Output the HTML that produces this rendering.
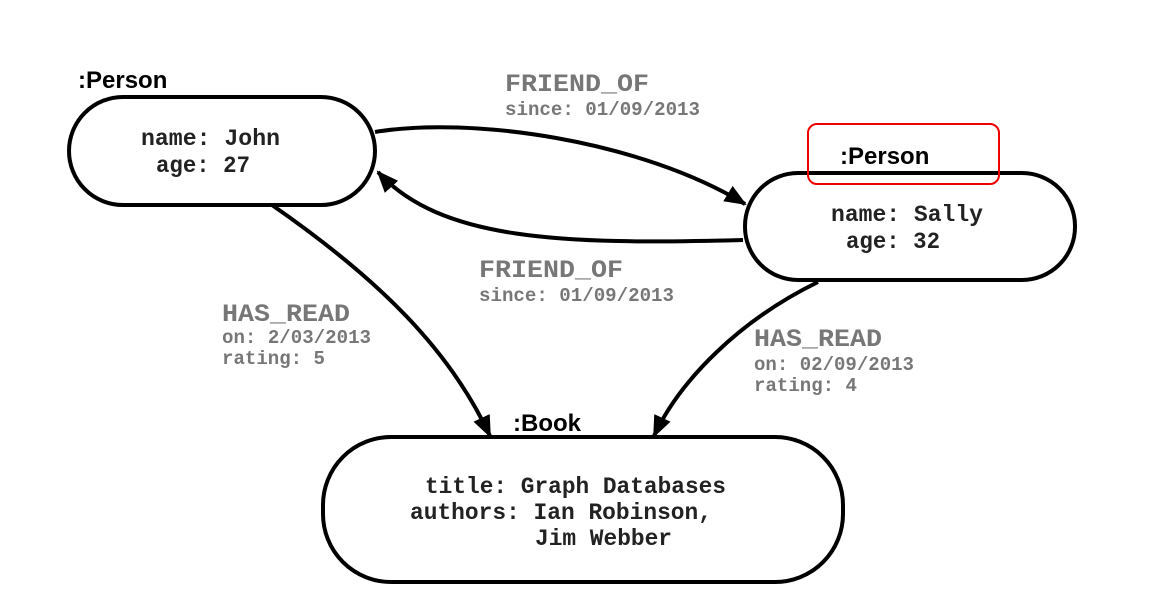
<!DOCTYPE html>
<html><head><meta charset="utf-8"><style>
html,body{margin:0;padding:0;background:#fff;}
svg{display:block;}
.n{font-family:"Liberation Mono",monospace;font-weight:bold;font-size:23px;fill:#222;}
.e{font-family:"Liberation Mono",monospace;font-weight:bold;fill:#777;}
.l{font-family:"Liberation Sans",sans-serif;font-weight:bold;font-size:24px;fill:#000;}
</style></head><body>
<svg width="1171" height="598" viewBox="0 0 1171 598" xmlns="http://www.w3.org/2000/svg">
<defs>
<marker id="b" markerWidth="22" markerHeight="22" refX="20" refY="11" orient="auto" markerUnits="userSpaceOnUse">
<path d="M0,2 L22,11 L0,20 z" fill="#000"/>
</marker>
</defs>
<g fill="none" stroke="#000" stroke-width="4">
<rect x="69" y="97" width="306" height="108" rx="54"/>
<rect x="745" y="173" width="330" height="107" rx="53"/>
<rect x="323" y="437" width="520" height="145" rx="68"/>
<path d="M375,132 C470,116 640,140 745,204" marker-end="url(#b)"/>
<path d="M743,240 C560,245 440,240 378,172" marker-end="url(#b)"/>
<path d="M272,205 C380,280 450,350 490,436" marker-end="url(#b)"/>
<path d="M818,282 C740,320 680,380 654,436" marker-end="url(#b)"/>
</g>
<rect x="808" y="124" width="191" height="60" rx="9" fill="none" stroke="#e00" stroke-width="2"/>
<text class="l" x="78" y="88">:Person</text>
<text class="l" x="840" y="164">:Person</text>
<text class="l" x="513" y="431">:Book</text>
<text class="n" x="141" y="145" textLength="139" lengthAdjust="spacingAndGlyphs">name: John</text>
<text class="n" x="156" y="172" textLength="94" lengthAdjust="spacingAndGlyphs">age: 27</text>
<text class="n" x="831" y="221" textLength="152" lengthAdjust="spacingAndGlyphs">name: Sally</text>
<text class="n" x="846" y="248" textLength="94" lengthAdjust="spacingAndGlyphs">age: 32</text>
<text class="n" x="425" y="493" textLength="301" lengthAdjust="spacingAndGlyphs">title: Graph Databases</text>
<text class="n" x="410" y="519" textLength="302" lengthAdjust="spacingAndGlyphs">authors: Ian Robinson,</text>
<text class="n" x="535" y="545" textLength="137" lengthAdjust="spacingAndGlyphs">Jim Webber</text>
<text class="e" font-size="25" x="505" y="91" textLength="144" lengthAdjust="spacingAndGlyphs">FRIEND_OF</text>
<text class="e" font-size="19" x="505" y="115" textLength="195" lengthAdjust="spacingAndGlyphs">since: 01/09/2013</text>
<text class="e" font-size="25" x="479" y="277" textLength="144" lengthAdjust="spacingAndGlyphs">FRIEND_OF</text>
<text class="e" font-size="19" x="479" y="301" textLength="195" lengthAdjust="spacingAndGlyphs">since: 01/09/2013</text>
<text class="e" font-size="25" x="222" y="321" textLength="128" lengthAdjust="spacingAndGlyphs">HAS_READ</text>
<text class="e" font-size="19" x="222" y="343" textLength="149" lengthAdjust="spacingAndGlyphs">on: 2/03/2013</text>
<text class="e" font-size="19" x="222" y="364" textLength="103" lengthAdjust="spacingAndGlyphs">rating: 5</text>
<text class="e" font-size="25" x="754" y="346" textLength="128" lengthAdjust="spacingAndGlyphs">HAS_READ</text>
<text class="e" font-size="19" x="754" y="370" textLength="160" lengthAdjust="spacingAndGlyphs">on: 02/09/2013</text>
<text class="e" font-size="19" x="754" y="391" textLength="103" lengthAdjust="spacingAndGlyphs">rating: 4</text>
</svg>
</body></html>
